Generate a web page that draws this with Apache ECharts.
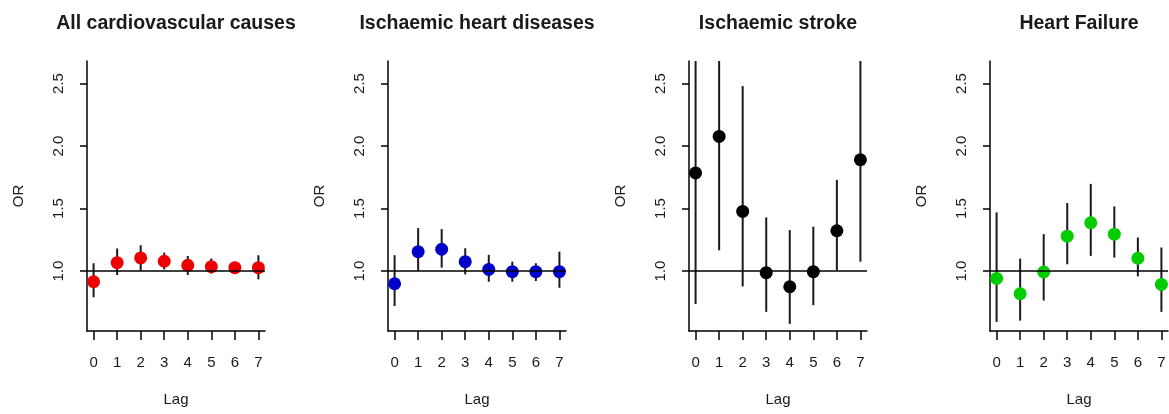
<!DOCTYPE html>
<html>
<head>
<meta charset="utf-8">
<title>OR by lag</title>
<script src="https://cdn.jsdelivr.net/npm/echarts@6/dist/echarts.min.js"></script>
<style>
  html, body { margin: 0; padding: 0; background: #ffffff; }
  #main { width: 1169px; height: 414px; }
</style>
</head>
<body>
<div id="main"></div>
<script>
// lags
var lags = [0, 1, 2, 3, 4, 5, 6, 7];
var lagTicks = [0, 1, 2, 3, 4, 5, 6, 7];
var orTicks = [1.0, 1.5, 2.0, 2.5];

var titles = ['All cardiovascular causes', 'Ischaemic heart diseases', 'Ischaemic stroke', 'Heart Failure'];
var colors = ['#ee0000', '#0000c8', '#000000', '#00cc00'];

// All cardiovascular causes
var cvdOR = [0.914, 1.067, 1.105, 1.078, 1.046, 1.035, 1.027, 1.027];
var cvdLo = [0.790, 0.968, 1.003, 1.013, 0.968, 0.979, 0.987, 0.933];
var cvdHi = [1.062, 1.180, 1.206, 1.147, 1.120, 1.100, 1.067, 1.126];

// Ischaemic heart diseases
var ihdOR = [0.898, 1.155, 1.174, 1.075, 1.013, 0.995, 0.995, 0.995];
var ihdLo = [0.720, 1.003, 1.027, 0.973, 0.914, 0.914, 0.920, 0.866];
var ihdHi = [1.126, 1.343, 1.335, 1.182, 1.129, 1.075, 1.062, 1.155];

// Ischaemic stroke (upper limits of lag 0, 1, 7 go off the top)
var strokeOR = [1.785, 2.077, 1.477, 0.987, 0.874, 0.995, 1.322, 1.890];
var strokeLo = [0.737, 1.166, 0.877, 0.673, 0.577, 0.727, 1.005, 1.075];
var strokeHi = [4.300, 3.700, 2.479, 1.429, 1.327, 1.354, 1.729, 3.300];

// Heart failure
var hfOR = [0.941, 0.818, 0.992, 1.279, 1.386, 1.295, 1.102, 0.893];
var hfLo = [0.593, 0.603, 0.764, 1.054, 1.121, 1.107, 0.957, 0.673];
var hfHi = [1.469, 1.099, 1.295, 1.544, 1.697, 1.517, 1.268, 1.188];

var panels = [
    {or: cvdOR, lo: cvdLo, hi: cvdHi},
    {or: ihdOR, lo: ihdLo, hi: ihdHi},
    {or: strokeOR, lo: strokeLo, hi: strokeHi},
    {or: hfOR, lo: hfLo, hi: hfHi}
];

var lefts = [87, 388, 689, 990];
var plotW = 178;
var textColor = '#1a1a1a';
var font = '"Liberation Sans", Arial, sans-serif';

var chart = echarts.init(document.getElementById('main'), null, {renderer: 'canvas'});

var grid = [], xAxis = [], yAxis = [], title = [], series = [];

panels.forEach(function (p, i) {
    grid.push({left: lefts[i], top: 61, width: plotW, height: 270});

    title.push({
        text: titles[i],
        left: lefts[i] + plotW / 2,
        top: 14,
        padding: 0,
        textAlign: 'center',
        textStyle: {fontFamily: font, fontSize: 19.5, fontWeight: 'bold', color: textColor}
    });

    xAxis.push({
        type: 'value', gridIndex: i, min: -0.28, max: 7.28,
        name: 'Lag', nameLocation: 'middle', nameGap: 61,
        nameTextStyle: {fontFamily: font, fontSize: 15, color: textColor},
        axisLine: {show: true, onZero: false, lineStyle: {color: '#000', width: 1.5}},
        axisTick: {show: true, length: 9, customValues: lagTicks, lineStyle: {color: '#000', width: 1.5}},
        axisLabel: {customValues: lagTicks, margin: 24, fontFamily: font, fontSize: 15, color: textColor},
        splitLine: {show: false}
    });

    yAxis.push({
        type: 'value', gridIndex: i, min: 0.52, max: 2.68,
        name: 'OR', nameLocation: 'middle', nameGap: 61,
        nameTextStyle: {fontFamily: font, fontSize: 15, color: textColor},
        axisLine: {show: true, onZero: false, lineStyle: {color: '#000', width: 1.5}},
        axisTick: {show: true, length: 7, customValues: orTicks, lineStyle: {color: '#000', width: 1.5}},
        axisLabel: {
            customValues: orTicks, rotate: 90, margin: 21,
            fontFamily: font, fontSize: 15, color: textColor,
            formatter: function (v) { return v.toFixed(1); }
        },
        splitLine: {show: false}
    });

    // confidence intervals
    series.push({
        type: 'custom', xAxisIndex: i, yAxisIndex: i, clip: true, z: 2,
        data: lags.map(function (l, k) { return [l, p.lo[k], p.hi[k]]; }),
        renderItem: function (params, api) {
            var a = api.coord([api.value(0), api.value(1)]);
            var b = api.coord([api.value(0), api.value(2)]);
            return {
                type: 'line',
                shape: {x1: a[0], y1: a[1], x2: b[0], y2: b[1]},
                style: {stroke: '#1a1a1a', lineWidth: 2}
            };
        }
    });

    // point estimates + reference line at OR = 1
    series.push({
        type: 'scatter', xAxisIndex: i, yAxisIndex: i, z: 3,
        symbolSize: 13,
        itemStyle: {color: colors[i], opacity: 1},
        data: lags.map(function (l, k) { return [l, p.or[k]]; }),
        markLine: {
            silent: true, symbol: 'none', animation: false,
            label: {show: false},
            lineStyle: {color: '#000', width: 1.5, type: 'solid'},
            data: [{yAxis: 1}]
        }
    });
});

chart.setOption({
    backgroundColor: '#ffffff',
    animation: false,
    title: title,
    grid: grid,
    xAxis: xAxis,
    yAxis: yAxis,
    series: series
});
</script>
</body>
</html>
